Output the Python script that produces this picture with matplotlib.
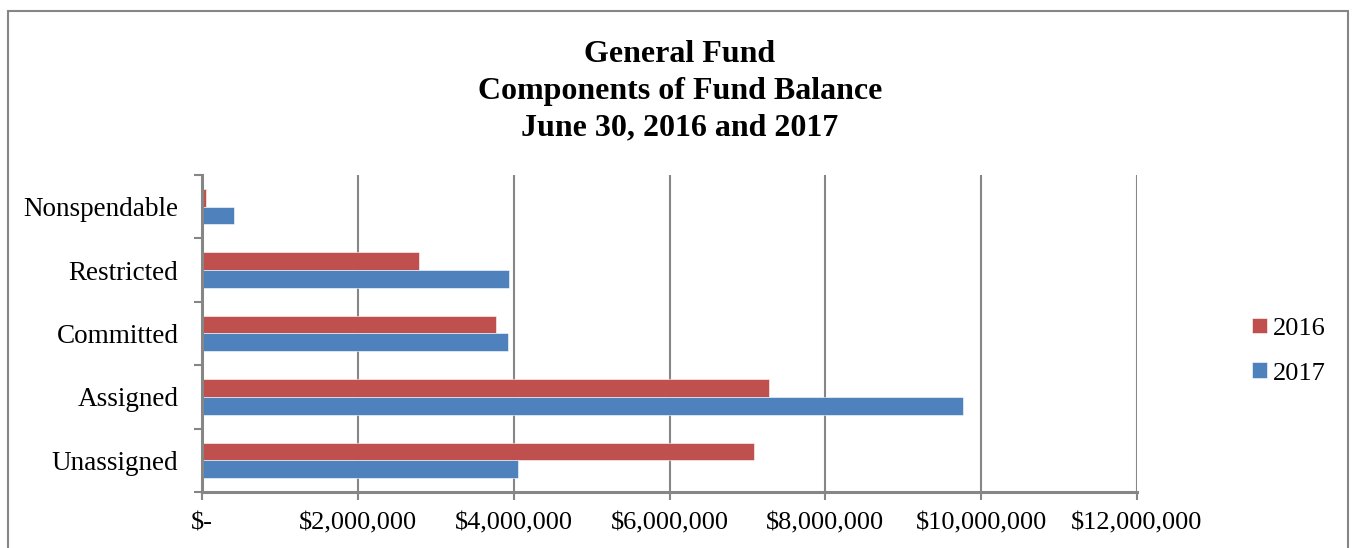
import matplotlib
matplotlib.use('Agg')
import matplotlib.pyplot as plt
from matplotlib.patches import Rectangle
from matplotlib.ticker import FuncFormatter
import numpy as np

# data, top category first
categories = ['Nonspendable', 'Restricted', 'Committed', 'Assigned', 'Unassigned']
fund_2016 = [45000, 2780000, 3770000, 7280000, 7080000]
fund_2017 = [410000, 3940000, 3930000, 9760000, 4060000]
x_ticks = [0, 2000000, 4000000, 6000000, 8000000, 10000000, 12000000]

red = '#C0504D'
blue = '#4F81BD'
grid_gray = '#868686'

plt.rcParams['font.family'] = ['Liberation Serif', 'DejaVu Serif']

fig = plt.figure(figsize=(13.53, 5.48), dpi=100)
ax = fig.add_axes([0.1493, 0.1022, 0.6911, 0.5785])

# bottom category at y=0
y = np.arange(len(categories))[::-1]
h = 0.28
ax.barh(y + h / 2, fund_2016, height=h, color=red, edgecolor='white', linewidth=0.4, label='2016', zorder=3)
ax.barh(y - h / 2, fund_2017, height=h, color=blue, edgecolor='white', linewidth=0.4, label='2017', zorder=3)

ax.set_xlim(0, 12000000)
ax.set_ylim(-0.5, len(categories) - 0.5)

# x axis
ax.set_xticks(x_ticks)
ax.xaxis.set_major_formatter(FuncFormatter(lambda v, p: '$-' if v == 0 else '${:,.0f}'.format(v)))
ax.tick_params(axis='x', labelsize=19, length=6, width=1.5, color=grid_gray, pad=9)
ax.grid(axis='x', color=grid_gray, linewidth=1.5, zorder=0)

# y axis: ticks on category boundaries, labels in the middle
ax.set_yticks(np.arange(-0.5, len(categories), 1.0))
ax.set_yticklabels([])
ax.set_yticks(y, minor=True)
ax.set_yticklabels(categories, minor=True)
ax.tick_params(axis='y', which='major', length=6, width=1.5, color=grid_gray)
ax.tick_params(axis='y', which='minor', length=0, labelsize=19.5, pad=17)

for side in ['top', 'right']:
    ax.spines[side].set_visible(False)
for side in ['left', 'bottom']:
    ax.spines[side].set_color(grid_gray)
    ax.spines[side].set_linewidth(2.2)
    ax.spines[side].set_zorder(4)

# title
fig.text(0.5025, 1 - 91 / 548, 'General Fund\nComponents of Fund Balance\nJune 30, 2016 and 2017',
         ha='center', va='center', fontsize=23, fontweight='bold', linespacing=1.36)

# legend on the right
fig.legend(loc='center left', bbox_to_anchor=(1252 / 1353, 1 - 351 / 548), frameon=False,
           fontsize=19, borderpad=0, borderaxespad=0, handlelength=0.55, handleheight=0.55,
           handletextpad=0.25, labelspacing=0.85)

# outer chart frame (bottom edge is cut off in the reference)
fig.add_artist(Rectangle((8 / 1353, -0.1), 1340 / 1353, 1.1 - 11 / 548, transform=fig.transFigure,
                         fill=False, edgecolor=grid_gray, linewidth=1.5))

fig.savefig('out.png', dpi=100)
